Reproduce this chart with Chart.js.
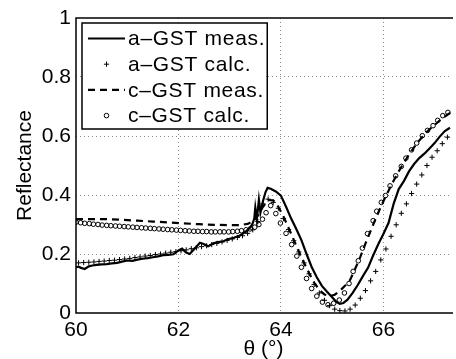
<!DOCTYPE html>
<html><head><meta charset="utf-8">
<script src="https://cdn.jsdelivr.net/npm/chart.js@4.4.0/dist/chart.umd.min.js"></script>
<style>html,body{margin:0;padding:0;background:#fff;} #wrap{width:456px;height:359px;position:relative;}</style>
</head><body><div id="wrap"><canvas id="c" width="456" height="359"></canvas></div>
<script>
const seriesLabels = ['a–GST meas.', 'a–GST calc.', 'c–GST meas.', 'c–GST calc.'];
const xTickValues = [60, 62, 64, 66];
const yTickValues = [0, 0.2, 0.4, 0.6, 0.8, 1];
const xAxisTitle = 'θ (°)';
const yAxisTitle = 'Reflectance';

const aMeasX = [60.00,60.05,60.10,60.17,60.25,60.32,60.40,60.50,60.60,60.70,60.80,60.90,61.00,61.10,61.20,61.30,61.40,61.50,61.60,61.70,61.80,61.90,62.00,62.07,62.15,62.22,62.30,62.42,62.48,62.58,62.68,62.77,62.88,62.96,63.08,63.19,63.31,63.40,63.44,63.48,63.50,63.53,63.57,63.60,63.65,63.70,63.74,63.80,63.90,64.00,64.10,64.20,64.30,64.40,64.50,64.60,64.70,64.80,64.90,65.00,65.08,65.15,65.22,65.30,65.40,65.50,65.60,65.70,65.80,65.90,66.00,66.10,66.20,66.30,66.40,66.50,66.60,66.70,66.80,66.90,67.00,67.10,67.20,67.30];
const aMeasY = [0.155,0.157,0.153,0.149,0.158,0.161,0.163,0.165,0.166,0.168,0.170,0.174,0.178,0.177,0.181,0.184,0.186,0.189,0.192,0.196,0.197,0.199,0.212,0.218,0.205,0.200,0.215,0.238,0.235,0.226,0.236,0.240,0.243,0.250,0.255,0.262,0.275,0.290,0.300,0.320,0.357,0.317,0.384,0.340,0.380,0.410,0.424,0.421,0.412,0.398,0.360,0.320,0.285,0.247,0.200,0.156,0.121,0.092,0.072,0.053,0.038,0.031,0.034,0.045,0.068,0.095,0.125,0.153,0.195,0.233,0.268,0.305,0.370,0.420,0.447,0.480,0.505,0.525,0.540,0.558,0.576,0.598,0.617,0.628];

const aCalcX = [60.05,60.15,60.25,60.35,60.45,60.55,60.65,60.75,60.85,60.95,61.05,61.15,61.25,61.35,61.45,61.55,61.65,61.75,61.85,61.95,62.05,62.15,62.25,62.35,62.45,62.55,62.65,62.75,62.85,62.95,63.05,63.15,63.25,63.35,63.45,63.55,63.65,63.75,63.85,63.95,64.05,64.15,64.25,64.35,64.45,64.55,64.65,64.75,64.85,64.95,65.05,65.15,65.25,65.35,65.45,65.55,65.65,65.75,65.85,65.95,66.05,66.15,66.25,66.35,66.45,66.55,66.65,66.75,66.85,66.95,67.05,67.15,67.25];
const aCalcY = [0.170,0.171,0.172,0.173,0.175,0.176,0.178,0.179,0.181,0.183,0.185,0.188,0.190,0.193,0.195,0.198,0.200,0.203,0.206,0.208,0.211,0.214,0.218,0.221,0.225,0.228,0.232,0.236,0.241,0.246,0.251,0.256,0.262,0.270,0.282,0.310,0.370,0.386,0.375,0.355,0.320,0.283,0.245,0.207,0.170,0.133,0.097,0.068,0.043,0.025,0.013,0.008,0.007,0.013,0.027,0.050,0.076,0.109,0.141,0.180,0.217,0.260,0.299,0.338,0.370,0.405,0.437,0.468,0.500,0.528,0.550,0.574,0.596];

const cMeasX = [60.00,60.30,60.60,60.90,61.20,61.50,61.80,62.10,62.40,62.70,63.00,63.20,63.35,63.45,63.55,63.65,63.75,63.85,63.95,64.05,64.15,64.25,64.35,64.45,64.55,64.65,64.75,64.85,64.95,65.05,65.15,65.25,65.35,65.45,65.55,65.65,65.75,65.85,65.95,66.05,66.15,66.25,66.35,66.45,66.55,66.65,66.75,66.85,66.95,67.05,67.15,67.25,67.32];
const cMeasY = [0.318,0.318,0.318,0.316,0.313,0.310,0.307,0.304,0.301,0.299,0.298,0.298,0.302,0.310,0.330,0.360,0.383,0.382,0.360,0.327,0.288,0.248,0.208,0.170,0.135,0.103,0.078,0.063,0.057,0.062,0.075,0.092,0.112,0.150,0.190,0.235,0.278,0.320,0.360,0.397,0.432,0.465,0.495,0.523,0.550,0.574,0.595,0.614,0.630,0.645,0.660,0.672,0.680];

const cCalcX = [60.00,60.09,60.17,60.26,60.34,60.43,60.51,60.60,60.68,60.77,60.85,60.94,61.02,61.11,61.19,61.28,61.36,61.45,61.53,61.62,61.70,61.79,61.87,61.96,62.04,62.13,62.21,62.30,62.38,62.47,62.55,62.64,62.72,62.81,62.89,62.98,63.06,63.15,63.23,63.32,63.40,63.49,63.57,63.64,63.71,63.80,63.90,63.99,64.10,64.21,64.31,64.40,64.50,64.60,64.70,64.81,64.92,65.03,65.14,65.24,65.33,65.41,65.51,65.59,65.69,65.80,65.87,65.96,66.04,66.13,66.24,66.35,66.44,66.55,66.65,66.76,66.86,66.97,67.06,67.16,67.26];
const cCalcY = [0.308,0.306,0.304,0.303,0.301,0.300,0.298,0.297,0.296,0.295,0.294,0.293,0.292,0.291,0.290,0.289,0.288,0.287,0.286,0.285,0.284,0.283,0.282,0.281,0.280,0.279,0.278,0.277,0.277,0.276,0.276,0.275,0.275,0.275,0.275,0.275,0.276,0.277,0.279,0.282,0.285,0.291,0.300,0.318,0.340,0.364,0.337,0.305,0.270,0.232,0.193,0.155,0.117,0.083,0.057,0.037,0.028,0.033,0.044,0.068,0.100,0.141,0.177,0.220,0.269,0.313,0.345,0.375,0.398,0.431,0.465,0.497,0.525,0.553,0.576,0.601,0.619,0.635,0.653,0.669,0.680];

const FONT = "'Liberation Sans', Arial, Helvetica, sans-serif";
const FONT_SIZE = 21;
Chart.defaults.font.family = FONT;
Chart.defaults.font.size = FONT_SIZE;
Chart.defaults.color = '#000';

function zip(xs, ys) { return xs.map((x, i) => ({ x: x, y: ys[i] })); }

const framePlugin = {
  id: 'frame',
  afterDatasetsDraw(chart) {
    const { ctx, chartArea: a } = chart;
    ctx.save();
    ctx.strokeStyle = '#000';
    ctx.lineWidth = 1.5;
    ctx.beginPath();
    ctx.moveTo(a.right + 2, a.top);
    ctx.lineTo(a.left, a.top);
    ctx.lineTo(a.left, a.bottom);
    ctx.lineTo(a.right + 2, a.bottom);
    ctx.stroke();
    ctx.restore();
  }
};

const legendPlugin = {
  id: 'boxLegend',
  afterDraw(chart) {
    const { ctx, chartArea: a } = chart;
    const ds = chart.data.datasets;
    ctx.save();
    ctx.font = FONT_SIZE + 'px ' + FONT;
    if ('letterSpacing' in ctx) ctx.letterSpacing = '0.7px';
    const rowH = 25.7;
    const x0 = a.left + 6, y0 = a.top + 5;
    const sL = x0 + 6, sR = x0 + 43, tX = x0 + 46;
    const maxW = Math.max.apply(null, ds.map(d => ctx.measureText(d.label).width));
    const w = tX - x0 + maxW + 2, h = 106;
    ctx.fillStyle = '#fff';
    ctx.fillRect(x0, y0, w, h);
    ctx.strokeStyle = '#000';
    ctx.lineWidth = 1.5;
    ctx.strokeRect(x0, y0, w, h);
    ds.forEach((d, i) => {
      const cy = y0 + 15.5 + i * rowH;
      const mx = (sL + sR) / 2;
      ctx.save();
      ctx.strokeStyle = d.borderColor;
      if (d.showLine) {
        ctx.lineWidth = d.borderWidth;
        ctx.setLineDash(d.borderDash || []);
        ctx.beginPath();
        ctx.moveTo(sL, cy);
        ctx.lineTo(sR, cy);
        ctx.stroke();
      } else {
        ctx.lineWidth = d.pointBorderWidth;
        ctx.beginPath();
        if (d.pointStyle === 'circle') {
          ctx.arc(mx, cy, d.pointRadius, 0, Math.PI * 2);
        } else {
          ctx.moveTo(mx - d.pointRadius, cy); ctx.lineTo(mx + d.pointRadius, cy);
          ctx.moveTo(mx, cy - d.pointRadius); ctx.lineTo(mx, cy + d.pointRadius);
        }
        ctx.stroke();
      }
      ctx.restore();
      ctx.fillStyle = '#000';
      ctx.textBaseline = 'middle';
      ctx.textAlign = 'left';
      ctx.fillText(d.label, tX, cy + 1);
    });
    ctx.restore();
  }
};

const gridColor = '#8a8a8a';

new Chart(document.getElementById('c'), {
  type: 'scatter',
  data: {
    datasets: [
      { label: seriesLabels[0], data: zip(aMeasX, aMeasY), showLine: true, borderColor: '#000', backgroundColor: '#000', borderWidth: 2.2, pointRadius: 0, tension: 0, order: 3 },
      { label: seriesLabels[1], data: zip(aCalcX, aCalcY), showLine: false, pointStyle: 'cross', pointRadius: 2.6, pointBorderWidth: 1, borderColor: '#000', backgroundColor: '#000', order: 2 },
      { label: seriesLabels[2], data: zip(cMeasX, cMeasY), showLine: true, borderColor: '#000', backgroundColor: '#000', borderWidth: 2.2, borderDash: [7, 5], pointRadius: 0, tension: 0, order: 1 },
      { label: seriesLabels[3], data: zip(cCalcX, cCalcY), showLine: false, pointStyle: 'circle', pointRadius: 2.3, pointBorderWidth: 1, borderColor: '#000', backgroundColor: 'rgba(0,0,0,0)', order: 0 }
    ]
  },
  options: {
    responsive: false, animation: false, devicePixelRatio: 1,
    layout: { padding: { top: 18, right: 0, left: 0, bottom: 0 } },
    plugins: { legend: { display: false }, tooltip: { enabled: false } },
    scales: {
      x: {
        type: 'linear', min: 60, max: 67.32,
        afterBuildTicks: s => { s.ticks = xTickValues.map(v => ({ value: v })); },
        afterFit: s => { s.height = 46; },
        ticks: { padding: 5, maxRotation: 0, autoSkip: false, callback: v => String(v), color: '#000' },
        grid: { color: c => (c.tick && c.tick.value === xTickValues[0]) ? 'rgba(0,0,0,0)' : gridColor, lineWidth: 1, drawTicks: false },
        border: { display: false, dash: [1, 3] },
        title: { display: true, text: xAxisTitle, color: '#000', padding: { top: 0, bottom: -3 } }
      },
      y: {
        type: 'linear', min: 0, max: 1,
        afterBuildTicks: s => { s.ticks = yTickValues.map(v => ({ value: v })); },
        afterFit: s => { s.width = 76; },
        ticks: { padding: 5, color: '#000', callback: v => (v === 0 || v === 1) ? String(v) : v.toFixed(1) },
        grid: { color: c => (c.tick && (c.tick.value === 0 || c.tick.value === 1)) ? 'rgba(0,0,0,0)' : gridColor, lineWidth: 1, drawTicks: false },
        border: { display: false, dash: [1, 3] },
        title: { display: true, text: yAxisTitle, color: '#000', padding: { top: 13, bottom: 0 } }
      }
    }
  },
  plugins: [framePlugin, legendPlugin]
});
</script>
</body></html>
